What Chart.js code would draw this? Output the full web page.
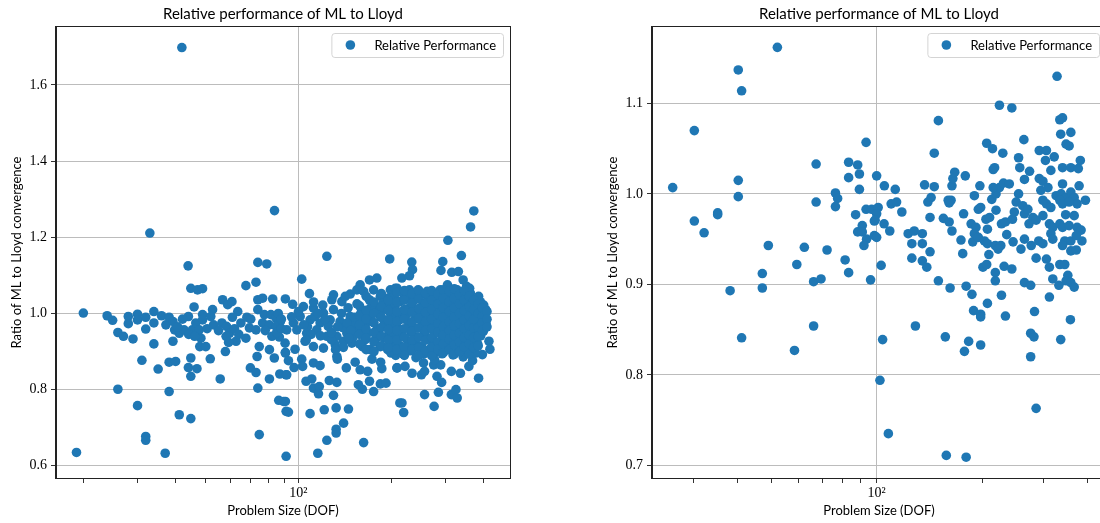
<!DOCTYPE html>
<html>
<head>
<meta charset="utf-8">
<script src="https://cdn.jsdelivr.net/npm/chart.js@4.4.1/dist/chart.umd.min.js"></script>
<style>
    html, body { margin: 0; padding: 0; background: #fff; width: 1100px; height: 523px; overflow: hidden; }
    .panel { position: absolute; top: 0; width: 550px; height: 523px; }
    #leftPanel { left: 0; }
    #rightPanel { left: 596px; }
</style>
</head>
<body>
<div class="panel" id="leftPanel"><canvas id="leftChart" width="550" height="523"></canvas></div>
<div class="panel" id="rightPanel"><canvas id="rightChart" width="550" height="523"></canvas></div>
<script>
const BLUE = '#1f77b4';
const GRID = '#bcbcbc';
const SANS = 'Lato, "DejaVu Sans", sans-serif';
const SERIF = '"Liberation Serif", "DejaVu Serif", serif';

const chartTitle = 'Relative performance of ML to Lloyd';
const seriesLabel = 'Relative Performance';
const xLabel = 'Problem Size (DOF)';
const yLabel = 'Ratio of ML to Lloyd convergence';

// x tick positions (only 10^2 gets a label)
const xTicks = [20, 30, 40, 50, 60, 70, 80, 90, 100, 200, 300, 400];
const leftYTicks = [0.6, 0.8, 1.0, 1.2, 1.4, 1.6];
const rightYTicks = [0.7, 0.8, 0.9, 1.0, 1.1];

// left panel: [DOF, ratio] pairs
const leftSmall = [
    [19.0,0.635],[20.0,1.001],[23.9,0.994],[24.9,0.982],[25.9,0.950],[27.0,0.940],[25.9,0.801],[28.0,0.992],
    [28.0,0.973],[29.0,0.933],[30.0,0.998],[30.0,0.983],[30.0,0.758],[31.0,0.877],[31.9,0.990],[31.9,0.959],
    [31.9,0.677],[31.9,0.667],[32.9,1.211],[33.9,1.005],[33.9,0.975],[33.9,0.920],[35.0,0.854],[35.9,0.994],
    [37.1,0.970],[38.0,0.990],[39.1,0.979],[39.1,0.927],[38.0,0.872],[39.9,0.874],[38.0,0.795],[36.9,0.633],
    [41.0,0.734],[39.6,0.957],[41.0,0.948],[42.5,0.957],[43.8,1.125],[43.9,0.992],[44.7,1.066],[47.0,1.062],
    [48.8,1.065],[45.8,1.017],[45.2,0.957],[46.4,0.975],[48.8,0.997],[48.8,0.983],[47.6,0.957],[48.2,0.935],
    [47.8,0.913],[50.0,0.913],[44.7,0.883],[43.9,0.858],[46.8,0.855],[44.7,0.835],[44.7,0.724],[51.7,0.881],
    [55.7,0.828],[52.6,1.010],[51.9,0.992],[56.7,1.036],[58.9,1.023],[60.8,1.031],[56.4,0.975],[58.4,0.966],
    [59.7,0.948],[58.2,0.940],[62.7,0.927],[59.3,0.924],[57.9,0.900],[63.5,1.005],[67.5,1.073],[72.8,1.082],
    [73.8,1.134],[78.9,1.130],[73.8,1.036],[76.5,1.040],[82.5,1.038],[73.8,1.010],[77.5,0.997],[81.4,0.997],
    [84.6,0.988],[87.4,0.979],[69.3,0.962],[67.5,0.935],[72.8,0.957],[76.5,0.975],[80.5,0.970],[84.6,0.966],
    [74.6,0.913],[73.4,0.887],[80.5,0.905],[83.5,0.883],[80.5,0.828],[69.8,0.857],[72.8,0.845],[73.8,0.804],
    [74.6,0.682],[86.7,0.938],[90.7,0.896],[87.0,0.841],[91.2,0.839],[86.3,0.772],[90.7,0.769],[91.2,0.743],
    [90.7,1.038],[91.2,0.625],[83.6,1.270],[41.8,1.698],
    [40.5,0.965],[42.0,0.985],[44.0,0.945],[46.0,0.940],[50.5,0.960],[53.0,0.970],[55.0,0.955],[62.0,0.960],
    [65.0,0.975],[68.0,0.990],[70.0,0.985],[78.0,0.955],[82.0,0.940],[85.0,0.950],[88.0,0.960],[64.0,0.945],
    [61.0,0.990],[86.0,1.000]
];

const leftMid = [
    [95.8,1.024],[102.5,1.090],[108.6,1.052],[123.7,1.150],[198,1.143],[170.2,1.088],[179.8,1.093],[158.7,1.075],
    [147.3,1.051],[128.4,1.036],[130,1.049],[138.4,1.031],[154.9,1.062],[162.9,1.058],[175.5,1.062],[184.6,1.045],
    [199,1.062],[209.3,1.066],[103.8,1.018],[111.9,1.014],[120.6,1.001],[96.3,0.975],[101.3,0.992],[109.1,0.983],
    [117.6,0.975],[126.8,0.983],[136.6,0.979],[147.3,0.992],[158.7,0.983],[171,0.992],[184.6,0.992],[198.8,1.001],
    [209.3,0.988],[91.6,0.957],[98.8,0.957],[106.4,0.948],[114.7,0.957],[123.7,0.940],[133.3,0.940],[143.7,0.948],
    [154.9,0.957],[167,0.948],[179.8,0.957],[194,0.940],[209.3,0.957],[90.5,0.922],[97.5,0.906],[105.1,0.927],
    [111.9,0.913],[120.6,0.909],[131.7,0.918],[140.2,0.927],[149.1,0.922],[161.3,0.913],[171.2,0.905],[184.6,0.913],
    [198.8,0.918],[90.7,0.898],[92.8,0.876],[96.8,0.858],[91.6,0.839],[102.5,0.880],[103.2,0.861],[111.9,0.870],
    [117.6,0.863],[133.3,0.887],[133.8,0.880],[143.1,0.857],[152.9,0.872],[158.7,0.852],[167.9,0.848],[173.4,0.880],
    [186.6,0.855],[209.3,0.857],[105.9,0.822],[110.5,0.828],[111.9,0.804],[116.9,0.808],[116.2,0.789],[126,0.824],
    [133.3,0.819],[130,0.785],[156.6,0.813],[161.3,0.801],[170.2,0.822],[175.5,0.795],[184.6,0.815],[192.6,0.817],
    [89.4,0.769],[92.8,0.741],[109.1,0.737],[121.3,0.747],[132.6,0.752],[145.4,0.749],[140.2,0.712],[132.6,0.696],
    [132.6,0.686],[123.7,0.667],[115.6,0.633],[162.9,0.661],[213.6,0.765],
    [100,1.005],[113,0.992],[125,0.966],[140,0.962],[150,0.976],[160,1.003],[165,0.971],[175,0.977],
    [180,1.012],[190,0.981],[195,0.966],[200,1.021],[205,0.976],[210,1.031],[188,1.026],[170,1.036],
    [178,0.932],[190,0.936],[205,0.926],[200,0.896],[185,0.872],[165,0.931],[150,0.936],[140,0.911],
    [128,0.931],[118,0.941],[107,0.965],[95,0.991],[88,0.985],[145,1.015],[155,1.025],[120,1.022],
    [130,1.010],[172,1.015],[195,1.040],[185,1.005],[162,0.962],[195,0.905],[207,0.890],
    [104,0.970],[110,0.945],[116,1.000],[122,0.985],[128,0.950],[134,0.965],[138,1.000],[144,0.975],
    [148,0.955],[152,0.990],[106,0.930],[132,0.905],[146,0.935],[112,1.030],[142,1.045]
];

const leftLarge = [
    [371.5,1.269],[362.6,1.227],[306,1.192],[338.5,1.152],[294.5,1.136],[290.5,1.113],[233.5,1.135],[234.8,1.115],
    [229.6,1.099],[216.8,1.093],[315,1.108],[331,1.110],[343,1.088],[352,1.071],[360,1.066],[385,1.045],
    [406,1.010],[399,0.953],[416,0.927],[419,0.906],[396,0.892],[385,0.830],[206.4,1.066],[219.3,1.053],
    [229.6,1.062],[245,1.062],[262,1.058],[289,1.062],[305,1.075],[328,1.062],[362,1.053],[209,0.857],
    [222,0.861],[234,0.843],[251,0.839],[255,0.870],[257,0.848],[275,0.865],[290,0.865],[282,0.835],
    [292,0.819],[314,0.848],[336,0.843],[358,0.861],[285,0.793],[257,0.787],[276,0.756],[217,0.765],
    [219.8,0.740],[314,0.787],[325,0.800],[328,0.778],[199,0.900],[204,0.922],
    [203,1.042],[206,1.018],[204,0.991],[208,0.968],[202,0.948],[207,0.931],[205,0.911],
    [214,1.031],[217,1.004],[212,0.982],[218,0.958],[215,0.941],[213,0.916],[219,0.894],
    [226,1.047],[230,1.015],[224,0.996],[229,0.973],[232,0.951],[227,0.926],[231,0.902],
    [238,1.036],[242,1.008],[240,0.986],[237,0.962],[243,0.939],[239,0.921],[241,0.884],
    [250,1.051],[254,1.024],[249,1.001],[253,0.971],[256,0.946],[251,0.914],[255,0.893],
    [263,1.041],[267,1.013],[262,0.989],[266,0.966],[264,0.934],[268,0.906],
    [276,1.046],[279,1.021],[274,0.998],[278,0.976],[281,0.951],[275,0.929],[279,0.899],[277,0.879],
    [288,1.034],[292,1.011],[287,0.984],[291,0.961],[294,0.938],[289,0.916],[293,0.894],
    [300,1.052],[304,1.029],[299,1.002],[305,0.979],[302,0.957],[298,0.934],[306,0.911],
    [313,1.039],[317,1.016],[312,0.991],[316,0.966],[319,0.944],[314,0.921],[318,0.891],
    [325,1.056],[329,1.024],[324,1.006],[330,0.981],[327,0.954],[323,0.932],[331,0.904],
    [338,1.036],[342,1.009],[337,0.986],[341,0.961],[344,0.936],[339,0.914],[343,0.886],
    [350,1.046],[354,1.019],[349,0.996],[355,0.971],[352,0.949],[348,0.926],[356,0.901],
    [363,1.029],[367,1.004],[362,0.981],[366,0.954],[369,0.931],[364,0.911],[368,0.876],
    [376,1.021],[380,0.994],[375,0.976],[379,0.951],[382,0.921],[377,0.896],
    [390,1.031],[394,1.001],[388,0.984],[393,0.966],[391,0.941],
    [403,0.996],[407,0.974],[400,1.022]
];

// the solid mass of the left panel, read between the points above
const leftDense = [
    [158,1.020],[158,0.995],[158,0.970],[158,0.945],[158,0.920],
    [166,1.045],[166,1.008],[166,0.985],[166,0.958],[166,0.935],[166,0.905],
    [176,1.030],[176,1.000],[176,0.975],[176,0.950],[176,0.925],[176,0.900],
    [186,1.052],[186,1.018],[186,0.990],[186,0.963],[186,0.940],[186,0.915],
    [196,1.035],[196,1.008],[196,0.983],[196,0.958],[196,0.930],[196,0.910],
    [209,1.055],[209,1.030],[209,1.005],[209,0.979],[209,0.955],[209,0.930],[209,0.905],
    [221,1.060],[221,1.035],[221,1.010],[221,0.985],[221,0.960],[221,0.937],[221,0.912],[221,0.890],
    [234,1.052],[234,1.028],[234,1.003],[234,0.978],[234,0.953],[234,0.930],[234,0.905],
    [246,1.060],[246,1.038],[246,1.013],[246,0.988],[246,0.962],[246,0.937],[246,0.910],[246,0.890],
    [259,1.053],[259,1.027],[259,1.003],[259,0.978],[259,0.955],[259,0.930],[259,0.903],
    [271,1.060],[271,1.035],[271,1.010],[271,0.985],[271,0.960],[271,0.937],[271,0.912],[271,0.889],
    [284,1.050],[284,1.025],[284,0.998],[284,0.973],[284,0.950],[284,0.925],[284,0.905],
    [296,1.062],[296,1.040],[296,1.015],[296,0.990],[296,0.965],[296,0.943],[296,0.920],[296,0.897],
    [309,1.058],[309,1.030],[309,1.005],[309,0.978],[309,0.955],[309,0.932],[309,0.905],
    [321,1.065],[321,1.040],[321,1.015],[321,0.990],[321,0.968],[321,0.943],[321,0.918],[321,0.893],
    [334,1.050],[334,1.025],[334,1.000],[334,0.973],[334,0.948],[334,0.925],[334,0.900],
    [346,1.060],[346,1.035],[346,1.008],[346,0.983],[346,0.960],[346,0.937],[346,0.912],
    [359,1.045],[359,1.018],[359,0.993],[359,0.968],[359,0.943],[359,0.920],[359,0.893],
    [371,1.035],[371,1.010],[371,0.985],[371,0.962],[371,0.937],[371,0.910],
    [384,1.025],[384,1.000],[384,0.963],[384,0.940],[384,0.915],
    [396,1.015],[396,0.992],[396,0.975],[396,0.955],
    [410,1.005],[410,0.985],[410,0.965]
];

// right panel
const rightSmall = [
    [52.1,1.162],[40.3,1.137],[41.2,1.114],[30.2,1.070],[26.2,1.007],[40.3,1.015],[40.3,0.997],[30.2,0.970],
    [32.2,0.957],[35.2,0.979],[35.2,0.977],[49.1,0.943],[38.2,0.893],[47.2,0.912],[47.2,0.896],[41.2,0.841],
    [62.2,0.941],[59.2,0.922],[72.2,0.938],[66.1,0.903],[69.4,0.906],[66.1,0.854],[58.3,0.827],[67.2,1.033],
    [67.2,0.991],[76.3,1.001],[77.4,0.995],[76.3,0.986],[83.2,1.035],[88.3,1.032],[89.3,1.022],[83.2,1.018],
    [89.3,1.005],[93.3,1.057],[100,1.020],[81.3,0.927],[83.2,0.913],[96.1,0.905],[87.1,0.977],[93.3,0.983],
    [96.8,0.983],[91.0,0.965],[88.3,0.958],[91.0,0.958],[93.6,0.950],[92.0,0.943],[98.5,0.970],[98.5,0.954],
    [102.2,0.794]
];

const rightLarge = [
    [105.2,1.009],[113,1.005],[101,0.985],[100,0.978],[99,0.971],[105,0.967],[109,0.959],[100,0.952],
    [103,0.921],[104,0.839],[108,0.735],[110,0.989],[114,0.991],[118,0.980],[123,0.956],[128,0.959],
    [135,0.956],[126,0.945],[135,0.945],[142,0.936],[126,0.929],[135,0.926],[139,0.919],[129,0.854],
    [137,1.010],[146,1.008],[140,0.991],[143,0.996],[142,0.974],[146,1.045],[150,1.081],[150,0.904],
    [157,0.842],[158,0.711],[180,0.709],[162,0.896],[155,0.973],[161,0.969],[164,0.959],[160,0.993],
    [163,0.993],[161,0.990],[164,1.009],[165,1.017],[167,1.024],[179,1.020],[177,0.978],[174,0.949],
    [176,0.934],[180,0.898],[187,0.889],[189,0.871],[198,0.867],[198,0.864],[178,0.826],[183,0.837],
    [198,0.833],[190,0.998],[197,1.009],[195,0.983],[198,0.985],[186,0.967],[192,0.963],[190,0.956],
    [188,0.947],[195,0.952],[205,0.972],[210,0.974],[207,0.961],[203,0.948],[207,0.945],[209,0.933],
    [201,0.919],[206,0.922],[218,0.913],[218,0.904],[207,0.879],[227,0.888],[233,0.865],[206,1.056],
    [214,1.050],[229,1.045],[215,1.027],[217,1.029],[213,0.994],[219,1.000],[224,1.007],[215,1.007],
    [230,1.012],[239,1.011],[219,0.982],[227,0.967],[233,0.969],[244,0.972],[218,0.943],[226,0.943],
    [222,0.939],[235,0.955],[245,0.947],[231,0.920],[243,0.917],[224,1.098],[243,1.095],[263,1.060],
    [254,1.040],[256,1.029],[264,1.016],[273,1.025],[254,1.000],[250,0.991],[261,0.987],[247,0.980],
    [264,0.978],[270,0.983],[279,0.974],[272,0.967],[285,0.971],[298,0.976],[264,0.950],[258,0.939],
    [276,0.943],[290,0.948],[298,0.945],[285,0.929],[264,0.902],[275,0.899],[282,0.870],[275,0.846],
    [281,0.842],[275,0.820],[285,0.763],[291,1.048],[305,1.048],[303,1.037],[291,1.017],[298,1.014],
    [308,1.007],[294,1.004],[305,0.989],[314,0.985],[298,0.993],[311,0.967],[318,0.963],[314,0.956],
    [318,0.950],[305,0.928],[311,0.919],[318,0.906],[331,0.899],[311,0.886],[314,1.026],[321,1.041],
    [327,1.130],[333,1.082],[339,1.084],[335,1.066],[358,1.068],[347,1.055],[354,1.053],[339,1.029],
    [358,1.029],[376,1.028],[381,1.037],[339,1.011],[378,1.009],[325,0.998],[336,1.000],[347,0.996],
    [358,1.002],[366,0.996],[373,0.989],[394,0.993],[333,0.993],[339,0.989],[354,0.991],[346,0.977],
    [366,0.976],[333,0.967],[339,0.963],[354,0.965],[373,0.963],[383,0.960],[344,0.948],[339,0.943],
    [358,0.948],[385,0.948],[371,0.954],[358,0.937],[371,0.938],[333,0.922],[344,0.922],[351,0.910],
    [347,0.904],[358,0.902],[366,0.897],[357,0.861],[335,0.839]
];

// draws the frame, the title and the boxed legend like matplotlib does
const decorPlugin = {
    id: 'decor',
    afterDraw(chart) {
        const { ctx, chartArea: ca } = chart;
        ctx.save();
        ctx.strokeStyle = '#222';
        ctx.lineWidth = 1;
        ctx.strokeRect(Math.round(ca.left) - 0.5, Math.round(ca.top) - 0.5,
            Math.round(ca.right - ca.left) + 1, Math.round(ca.bottom - ca.top) + 1);

        ctx.fillStyle = '#000';
        ctx.font = '15px ' + SANS;
        ctx.textAlign = 'center';
        ctx.textBaseline = 'middle';
        ctx.fillText(chartTitle, (ca.left + ca.right) / 2, 14);

        ctx.font = '13px ' + SANS;
        const tw = ctx.measureText(seriesLabel).width;
        const w = 43 + tw + 7, h = 24;
        const x = ca.right - 7 - w, y = ca.top + 6;
        ctx.beginPath();
        ctx.roundRect(x + 0.5, y + 0.5, w, h, 3);
        ctx.fillStyle = 'rgba(255,255,255,0.8)';
        ctx.fill();
        ctx.strokeStyle = '#d4d4d4';
        ctx.stroke();
        ctx.beginPath();
        ctx.arc(x + 19, y + 12, 4.8, 0, Math.PI * 2);
        ctx.fillStyle = BLUE;
        ctx.fill();
        ctx.fillStyle = '#000';
        ctx.textAlign = 'left';
        ctx.fillText(seriesLabel, x + 43, y + 12.5);
        ctx.restore();
    }
};

function makeChart(id, points, xMin, xMax, yMin, yMax, yTicks) {
    return new Chart(document.getElementById(id), {
        type: 'scatter',
        data: {
            datasets: [{
                label: seriesLabel,
                data: points.map(p => ({ x: p[0], y: p[1] })),
                backgroundColor: BLUE,
                borderColor: BLUE,
                borderWidth: 0,
                pointRadius: 4.8,
                pointHoverRadius: 4.8
            }]
        },
        options: {
            responsive: false,
            animation: false,
            devicePixelRatio: 1,
            layout: { padding: { top: 27, right: 40, left: 0, bottom: 0 } },
            plugins: { legend: { display: false }, title: { display: false }, tooltip: { enabled: false } },
            scales: {
                x: {
                    type: 'logarithmic',
                    min: xMin,
                    max: xMax,
                    afterBuildTicks: s => { s.ticks = xTicks.filter(v => v >= xMin && v <= xMax).map(v => ({ value: v })); },
                    afterFit: s => { s.height = 45; },
                    ticks: {
                        autoSkip: false, maxRotation: 0, padding: 2, color: '#000',
                        font: { family: SERIF, size: 14 },
                        callback: v => v === 100 ? '10²' : ''
                    },
                    grid: {
                        color: c => (c.tick && c.tick.value === 100) ? GRID : 'rgba(0,0,0,0)',
                        tickColor: '#333', tickLength: 5, lineWidth: 1
                    },
                    border: { display: true, color: '#222', width: 1 },
                    title: { display: true, text: xLabel, color: '#000', font: { family: SANS, size: 13 }, padding: { top: 0, bottom: 4 } }
                },
                y: {
                    min: yMin,
                    max: yMax,
                    afterBuildTicks: s => { s.ticks = yTicks.map(v => ({ value: v })); },
                    afterFit: s => { s.width = 56; },
                    ticks: { padding: 4, color: '#000', font: { family: SERIF, size: 14 }, callback: v => v.toFixed(1) },
                    grid: { color: GRID, tickColor: '#333', tickLength: 5, lineWidth: 1 },
                    border: { display: true, color: '#222', width: 1 },
                    title: { display: true, text: yLabel, color: '#000', font: { family: SANS, size: 13 }, padding: { top: 9, bottom: 0 } }
                }
            }
        },
        plugins: [decorPlugin]
    });
}

makeChart('leftChart', leftSmall.concat(leftMid, leftLarge, leftDense), 16.3, 487, 0.568, 1.752, leftYTicks);
makeChart('rightChart', rightSmall.concat(rightLarge), 22.87, 451, 0.686, 1.1845, rightYTicks);
</script>
</body>
</html>
